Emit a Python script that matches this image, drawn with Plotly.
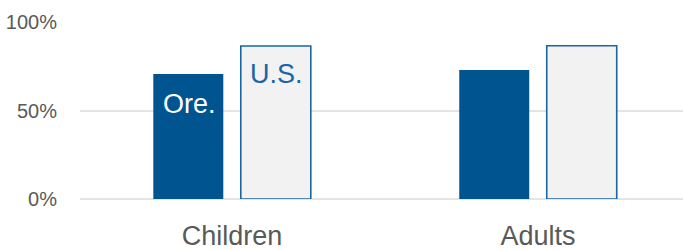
import plotly.graph_objects as go

categories = ["Children", "Adults"]
oregon = [70.6, 72.9]
us = [86.4, 86.6]
series_labels = ["Ore.", "U.S."]
tick_vals = [0, 50, 100]
tick_text = ["0%", "50%", "100%"]

FONT = "Liberation Sans, Arial, sans-serif"
BLUE = "#005591"
EDGE = "#1A65A6"
GRAY = "#595959"

fig = go.Figure()
fig.add_trace(go.Bar(x=categories, y=oregon, name=series_labels[0],
                     marker=dict(color=BLUE, line=dict(color=BLUE, width=0))))
fig.add_trace(go.Bar(x=categories, y=us, name=series_labels[1],
                     marker=dict(color="#F2F2F2", line=dict(color=EDGE, width=1.6))))

fig.add_annotation(x=categories[0], y=oregon[0], xref="x", yref="y", text=series_labels[0],
                   showarrow=False, xshift=-43, yshift=-30, yanchor="middle",
                   font=dict(family=FONT, size=27, color="white"))
fig.add_annotation(x=categories[0], y=us[0], xref="x", yref="y", text=series_labels[1],
                   showarrow=False, xshift=44, yshift=-28, yanchor="middle",
                   font=dict(family=FONT, size=27, color=EDGE))

fig.update_layout(
    width=683, height=250,
    margin=dict(l=80, r=0, t=22, b=51, autoexpand=False),
    barmode="group", bargap=0.428, bargroupgap=0.2,
    showlegend=False,
    plot_bgcolor="white", paper_bgcolor="white",
    font=dict(family=FONT, color=GRAY),
)
fig.update_xaxes(range=[-0.497, 1.474], showgrid=False, showline=False, ticks="",
                 automargin=False, ticklabelstandoff=18,
                 tickfont=dict(family=FONT, size=27, color=GRAY))
fig.update_yaxes(range=[0, 100], tickvals=tick_vals, ticktext=tick_text,
                 showgrid=True, gridcolor="#E4E4E4", gridwidth=1.5,
                 zeroline=True, zerolinecolor="#E4E4E4", zerolinewidth=1.5,
                 ticks="", ticklabelstandoff=22, automargin=False,
                 tickfont=dict(family=FONT, size=20, color=GRAY))

fig.write_html("out.html", config={"displayModeBar": False},
               post_script="document.body.style.margin='0';document.body.style.overflow='hidden';")
